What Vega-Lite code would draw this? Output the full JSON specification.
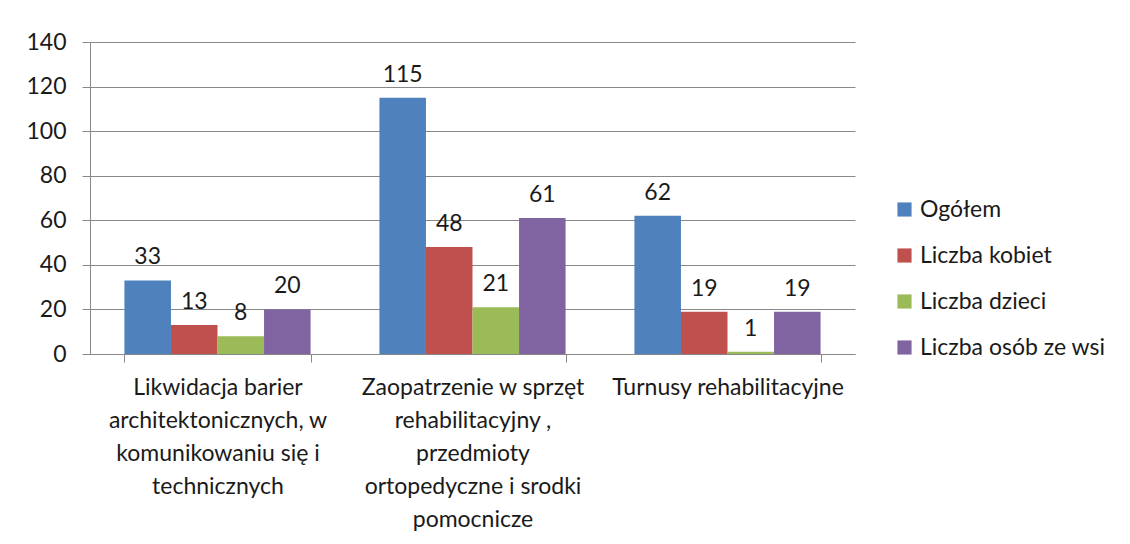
{
  "$schema": "https://vega.github.io/schema/vega-lite/v6.json",
  "autosize": "none",
  "width": 765,
  "height": 312,
  "padding": {"left": 90, "top": 42, "right": 275, "bottom": 190},
  "background": "white",
  "config": {
    "view": {"stroke": null},
    "font": "Lato",
    "axis": {"labelFont": "Lato", "labelFontSize": 23, "labelColor": "#1a1a1a", "domainColor": "#888888", "tickColor": "#888888", "gridColor": "#888888", "tickSize": 8, "title": null, "labelLimit": 500}
  },
  "data": {
    "values": [
      {"kategoria": "Likwidacja barier architektonicznych, w komunikowaniu się i technicznych", "seria": "Ogółem", "wartosc": 33},
      {"kategoria": "Likwidacja barier architektonicznych, w komunikowaniu się i technicznych", "seria": "Liczba kobiet", "wartosc": 13},
      {"kategoria": "Likwidacja barier architektonicznych, w komunikowaniu się i technicznych", "seria": "Liczba dzieci", "wartosc": 8},
      {"kategoria": "Likwidacja barier architektonicznych, w komunikowaniu się i technicznych", "seria": "Liczba osób ze wsi", "wartosc": 20},
      {"kategoria": "Zaopatrzenie w sprzęt rehabilitacyjny , przedmioty ortopedyczne i srodki pomocnicze", "seria": "Ogółem", "wartosc": 115},
      {"kategoria": "Zaopatrzenie w sprzęt rehabilitacyjny , przedmioty ortopedyczne i srodki pomocnicze", "seria": "Liczba kobiet", "wartosc": 48},
      {"kategoria": "Zaopatrzenie w sprzęt rehabilitacyjny , przedmioty ortopedyczne i srodki pomocnicze", "seria": "Liczba dzieci", "wartosc": 21},
      {"kategoria": "Zaopatrzenie w sprzęt rehabilitacyjny , przedmioty ortopedyczne i srodki pomocnicze", "seria": "Liczba osób ze wsi", "wartosc": 61},
      {"kategoria": "Turnusy rehabilitacyjne", "seria": "Ogółem", "wartosc": 62},
      {"kategoria": "Turnusy rehabilitacyjne", "seria": "Liczba kobiet", "wartosc": 19},
      {"kategoria": "Turnusy rehabilitacyjne", "seria": "Liczba dzieci", "wartosc": 1},
      {"kategoria": "Turnusy rehabilitacyjne", "seria": "Liczba osób ze wsi", "wartosc": 19}
    ]
  },
  "encoding": {
    "x": {
      "field": "kategoria",
      "type": "nominal",
      "sort": null,
      "scale": {"paddingInner": 0.27, "paddingOuter": 0.135},
      "axis": {
        "labelAngle": 0,
        "tickBand": "extent",
        "labelPadding": 14,
        "labelLineHeight": 33,
        "labelBaseline": "top",
        "labelExpr": "indexof(datum.label, 'Likwidacja') == 0 ? ['Likwidacja barier', 'architektonicznych, w', 'komunikowaniu się i', 'technicznych'] : indexof(datum.label, 'Zaopatrzenie') == 0 ? ['Zaopatrzenie w sprzęt', 'rehabilitacyjny ,', 'przedmioty', 'ortopedyczne i srodki', 'pomocnicze'] : datum.label"
      }
    },
    "xOffset": {"field": "seria", "type": "nominal", "sort": ["Ogółem", "Liczba kobiet", "Liczba dzieci", "Liczba osób ze wsi"], "scale": {"paddingInner": 0, "paddingOuter": 0}},
    "y": {
      "field": "wartosc",
      "type": "quantitative",
      "scale": {"domain": [0, 140], "nice": false},
      "axis": {"values": [0, 20, 40, 60, 80, 100, 120, 140], "grid": true, "labelPadding": 16, "domain": true}
    }
  },
  "layer": [
    {
      "mark": {"type": "bar"},
      "encoding": {
        "color": {
          "field": "seria",
          "type": "nominal",
          "sort": ["Ogółem", "Liczba kobiet", "Liczba dzieci", "Liczba osób ze wsi"],
          "scale": {"domain": ["Ogółem", "Liczba kobiet", "Liczba dzieci", "Liczba osób ze wsi"], "range": ["#4F81BD", "#C0504D", "#9BBB59", "#8064A2"]},
          "legend": {
            "title": null,
            "orient": "none",
            "legendX": 803,
            "legendY": 156,
            "symbolType": "square",
            "symbolSize": 200,
            "symbolStrokeWidth": 0,
            "labelFont": "Lato",
            "labelFontSize": 23,
            "labelColor": "#1a1a1a",
            "labelOffset": 4,
            "rowPadding": 22,
            "labelLimit": 400
          }
        }
      }
    },
    {
      "mark": {"type": "text", "baseline": "bottom", "dy": -11, "fontSize": 23, "font": "Lato", "color": "#1a1a1a"},
      "encoding": {"text": {"field": "wartosc", "type": "quantitative"}}
    }
  ]
}
